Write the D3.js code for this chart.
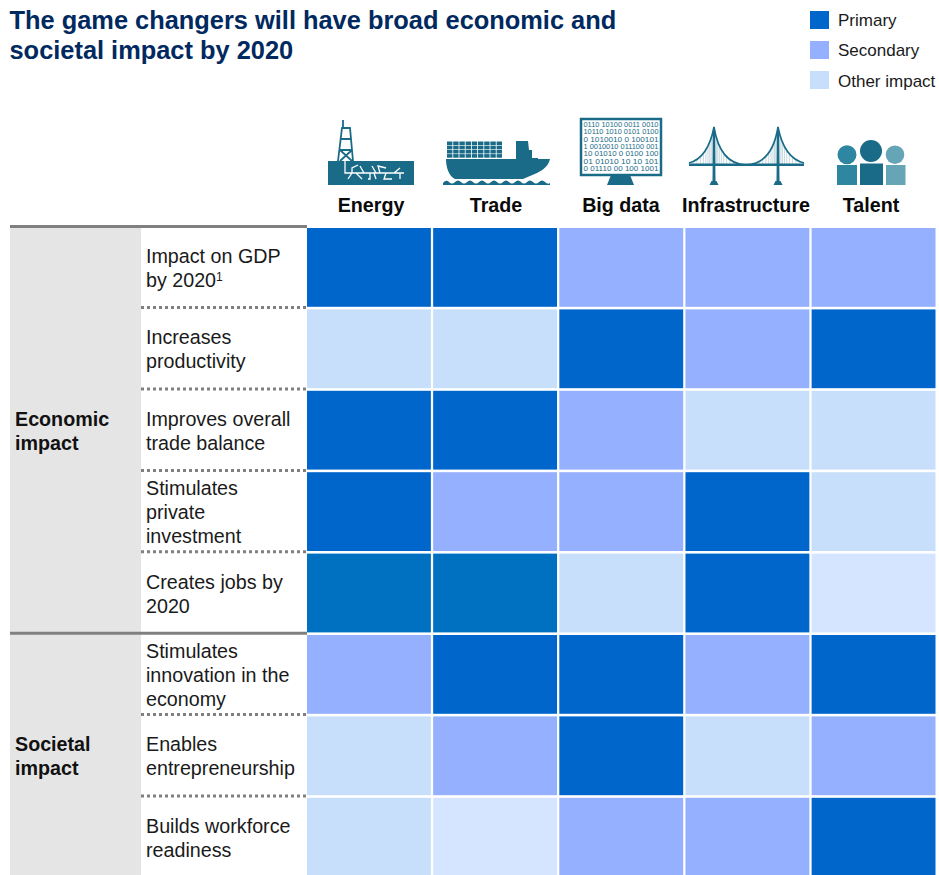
<!DOCTYPE html>
<html>
<head>
<meta charset="utf-8">
<script src="https://cdn.jsdelivr.net/npm/d3@7"></script>
<style>
  html, body { margin: 0; padding: 0; background: #fff; overflow: hidden; }
  text { font-family: "Liberation Sans", Arial, sans-serif; }
</style>
</head>
<body>
<div id="chart"></div>
<script>
const w = 939;
const h = 875;

const titleLines = ["The game changers will have broad economic and", "societal impact by 2020"];
const columns = ["Energy", "Trade", "Big data", "Infrastructure", "Talent"];
const rows = [
  ["Impact on GDP", "by 2020"],
  ["Increases", "productivity"],
  ["Improves overall", "trade balance"],
  ["Stimulates", "private", "investment"],
  ["Creates jobs by", "2020"],
  ["Stimulates", "innovation in the", "economy"],
  ["Enables", "entrepreneurship"],
  ["Builds workforce", "readiness"]
];
const groups = [
  { lines: ["Economic", "impact"], from: 0, to: 4 },
  { lines: ["Societal", "impact"], from: 5, to: 7 }
];
const legendLabels = ["Primary", "Secondary", "Other impact"];

// p primary, s secondary, o other, j primary (teal tint), l other (pale tint)
const impact = [
  ["p", "p", "s", "s", "s"],
  ["o", "o", "p", "s", "p"],
  ["p", "p", "s", "o", "o"],
  ["p", "s", "s", "p", "o"],
  ["j", "j", "o", "p", "l"],
  ["s", "p", "p", "s", "p"],
  ["o", "s", "p", "o", "s"],
  ["o", "l", "s", "s", "p"]
];
const digitRows = [
  "0110 10100 0011 0010",
  "10110 1010 0101 0100",
  "0 1010010 0 100101",
  "1 0010010 011100 001",
  "10 01010 0 0100 100",
  "01 01010 10 10 101",
  "0 01110 00 100 1001"
];

const colors = { p: "#0066cc", s: "#94b0ff", o: "#c7dffa", j: "#0070c0", l: "#d6e5ff" };
const teal = "#1a6b87";

const svg = d3.select("#chart").append("svg")
  .attr("width", w)
  .attr("height", h)
  .style("display", "block");

const x = d3.scaleBand().domain(d3.range(columns.length)).range([307, 935.5]).paddingInner(0.018).paddingOuter(0);
const y = d3.scaleBand().domain(d3.range(rows.length)).range([228, 876.6]).paddingInner(0.032).paddingOuter(0);
// headers sit on their own even spacing, slightly tighter than the cells
const headX = d3.scalePoint().domain(columns).range([371, 871]);
const rowLine = i => y(i) + y.bandwidth() + y.step() * 0.016 - 0.5;

// title
svg.selectAll(".title").data(titleLines).enter().append("text")
  .attr("class", "title")
  .attr("x", 9.5)
  .attr("y", (d, i) => 29 + i * 30)
  .attr("font-size", 25.4)
  .attr("font-weight", "bold")
  .attr("fill", "#002960")
  .text(d => d);

// legend
const legend = svg.selectAll(".legend").data(legendLabels).enter().append("g")
  .attr("class", "legend")
  .attr("transform", (d, i) => `translate(810,${11 + i * 30})`);
legend.append("rect").attr("width", 19).attr("height", 18)
  .attr("fill", (d, i) => colors["pso"[i]]);
legend.append("text").attr("x", 28).attr("y", (d, i) => 15 + (i === 2 ? 1 : 0))
  .attr("font-size", 17).attr("fill", "#1a1a1a").text(d => d);

// left block
svg.append("rect").attr("x", 10).attr("y", 228).attr("width", 131).attr("height", h - 228).attr("fill", "#e5e5e5");

groups.forEach(g => {
  const mid = (y(g.from) + y(g.to) + y.bandwidth()) / 2;
  svg.selectAll(null).data(g.lines).enter().append("text")
    .attr("x", 15)
    .attr("y", (d, i) => mid + 7.5 + (i - (g.lines.length - 1) / 2) * 24)
    .attr("font-size", 19.7)
    .attr("font-weight", "bold")
    .attr("fill", "#111")
    .text(d => d);
});

rows.forEach((lines, r) => {
  const mid = y(r) + y.bandwidth() / 2;
  lines.forEach((line, i) => {
    const t = svg.append("text")
      .attr("x", 146)
      .attr("y", mid + 7.5 + (i - (lines.length - 1) / 2) * 24)
      .attr("font-size", 19.7)
      .attr("fill", "#1a1a1a")
      .text(line);
    if (r === 0 && i === 1) {
      t.append("tspan").attr("font-size", 12).attr("dy", -6).text("1");
    }
  });
});

// cells
svg.selectAll(".row").data(impact).enter().append("g")
  .attr("class", "row")
  .attr("transform", (d, i) => `translate(0,${y(i)})`)
  .selectAll("rect").data(d => d).enter().append("rect")
  .attr("x", (d, i) => x(i))
  .attr("width", x.bandwidth())
  .attr("height", y.bandwidth())
  .attr("fill", d => colors[d]);

// separators
const solidRows = groups.map(g => g.from);
d3.range(rows.length - 1).filter(r => !solidRows.includes(r + 1)).forEach(r => {
  svg.append("line")
    .attr("x1", 141).attr("x2", 307)
    .attr("y1", rowLine(r)).attr("y2", rowLine(r))
    .attr("stroke", "#808080").attr("stroke-width", 3)
    .attr("stroke-dasharray", "3,3");
});
solidRows.forEach(r => {
  const ly = r === 0 ? 226.5 : rowLine(r - 1);
  svg.append("line")
    .attr("x1", 10).attr("x2", 307)
    .attr("y1", ly).attr("y2", ly)
    .attr("stroke", "#808080").attr("stroke-width", 3);
});

// column headers
svg.selectAll(".head").data(columns).enter().append("text")
  .attr("class", "head")
  .attr("x", d => headX(d))
  .attr("y", 212)
  .attr("text-anchor", "middle")
  .attr("font-size", 19.7)
  .attr("font-weight", "bold")
  .attr("fill", "#0a0a0a")
  .text(d => d);

// icons
const icons = svg.append("g");

// oil rig
const rig = icons.append("g");
rig.append("rect").attr("x", 328).attr("y", 161).attr("width", 86).attr("height", 24).attr("fill", teal);
rig.append("path")
  .attr("d", "M338 161L342 128H350L353 161M342 128H350M341 139H351M340 150H352M340 150L352 161M352 150L340 161M343 127L343 120")
  .attr("fill", "none").attr("stroke", teal).attr("stroke-width", 1.8);
rig.append("path")
  .attr("d", "M345 161V173H404M352 173V168L358 165M352 173L348 179M364 173L360 166M370 173V179H368M376 173L372 166M380 173L378 166L386 168M386 173L384 179H392M394 173L400 168M400 173V179M356 173L362 179M374 173L376 179")
  .attr("fill", "none").attr("stroke", "#fff").attr("stroke-width", 1.3);

// container ship
const ship = icons.append("g");
ship.append("path")
  .attr("d", "M446 159H516V141H528L529 150H532V158H538V159H550C548 168 540 172 530 176L523 179H455C449 176 446 168 446 159Z")
  .attr("fill", teal);
const containers = ship.append("g");
d3.range(4).forEach(r => d3.range(9).forEach(c => {
  containers.append("rect")
    .attr("x", 447 + c * 6.2).attr("y", 141.5 + r * 4.2)
    .attr("width", 5.4).attr("height", 3.6).attr("fill", teal);
}));
ship.append("path")
  .attr("d", "M443 183Q446 179 449 182T455 182T461 182T467 182T473 182T479 182T485 182T491 182T497 182T503 182T509 182T515 182T521 182T527 182T533 182T539 182T545 182T550 183V185H443Z")
  .attr("fill", teal);

// monitor with digits
const monitor = icons.append("g");
monitor.append("rect").attr("x", 581).attr("y", 119).attr("width", 80).attr("height", 56)
  .attr("fill", "#fff").attr("stroke", teal).attr("stroke-width", 2.5);
monitor.append("path").attr("d", "M611 175H630L634 185H607Z").attr("fill", teal);
monitor.selectAll("text").data(digitRows).enter().append("text")
  .attr("x", 583.5)
  .attr("y", (d, i) => 127 + i * 7.3)
  .attr("font-size", 7.5)
  .attr("fill", teal)
  .attr("textLength", 75)
  .attr("lengthAdjust", "spacingAndGlyphs")
  .text(d => d);

// suspension bridge
const bridge = icons.append("g");
const cable = "M689 163Q708 158 714 127Q720 164 746 165Q772 164 778 127Q784 158 804 163";
bridge.append("path").attr("d", cable).attr("fill", "none").attr("stroke", teal).attr("stroke-width", 1.6);
const hangerPath = d3.create("svg:path").attr("d", cable).node();
const cableLen = hangerPath.getTotalLength();
d3.range(0, 1.001, 1 / 46).forEach(t => {
  const p = hangerPath.getPointAtLength(t * cableLen);
  bridge.append("line").attr("x1", p.x).attr("x2", p.x).attr("y1", p.y).attr("y2", 164)
    .attr("stroke", teal).attr("stroke-width", 0.5).attr("stroke-opacity", 0.5);
});
bridge.append("rect").attr("x", 689).attr("y", 163.5).attr("width", 115).attr("height", 2.5).attr("fill", teal);
[714, 778].forEach(tx => {
  bridge.append("path")
    .attr("d", `M${tx - 1} 127H${tx + 1}L${tx + 1.5} 181H${tx + 2.5}L${tx + 4.5} 185H${tx - 4.5}L${tx - 2.5} 181H${tx - 1.5}Z`)
    .attr("fill", teal);
});

// people
const people = [
  { cx: 847, cy: 154.7, r: 9.5, x: 837, top: 165, width: 20, fill: "#2e86a0" },
  { cx: 871, cy: 151, r: 11, x: 860, top: 163.5, width: 23, fill: teal },
  { cx: 895, cy: 154.7, r: 9.3, x: 886, top: 165, width: 19.5, fill: "#66a5b5" }
];
const talent = icons.append("g");
talent.selectAll("circle").data(people).enter().append("circle")
  .attr("cx", d => d.cx).attr("cy", d => d.cy).attr("r", d => d.r).attr("fill", d => d.fill);
talent.selectAll("rect").data(people).enter().append("rect")
  .attr("x", d => d.x).attr("y", d => d.top).attr("width", d => d.width).attr("height", d => 185 - d.top).attr("fill", d => d.fill);
</script>
</body>
</html>
